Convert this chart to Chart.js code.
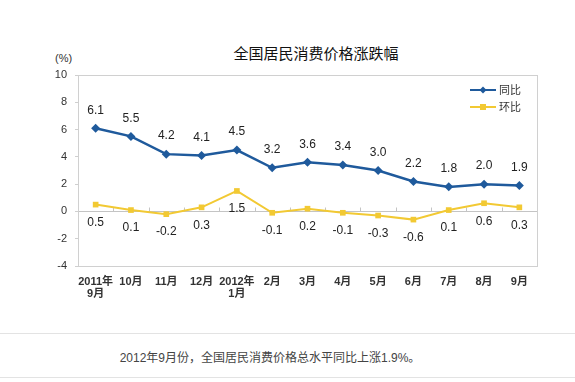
<!DOCTYPE html>
<html>
<head>
<meta charset="utf-8">
<script src="https://cdn.jsdelivr.net/npm/chart.js@4.4.1/dist/chart.umd.min.js"></script>
<style>
  html, body { margin: 0; padding: 0; background: #fff; }
  body { width: 575px; height: 382px; position: relative; overflow: hidden;
         font-family: "Liberation Sans", "Noto Sans CJK SC", sans-serif; }
  #chart { position: absolute; left: 0; top: 0; }
  .title { position: absolute; left: 316px; top: 43px; transform: translateX(-50%);
           font: 15px/20px "Noto Sans CJK SC", sans-serif; color: #111; white-space: nowrap; }
  .unit { position: absolute; left: 55px; top: 52px; font: 11px/12px "Liberation Sans", sans-serif; color: #333; }
  .rule { position: absolute; left: 0; width: 575px; height: 1px; background: #e3e3e3; }
  .caption { position: absolute; left: 270px; top: 350px; transform: translateX(-50%);
             font: 12px/16px "Liberation Sans", "Noto Sans CJK SC", sans-serif; color: #444; white-space: nowrap; }
</style>
</head>
<body>
<div class="title">全国居民消费价格涨跌幅</div>
<div class="unit">(%)</div>
<canvas id="chart" width="575" height="320"></canvas>
<div class="rule" style="top:333px"></div>
<div class="caption">2012年9月份，全国居民消费价格总水平同比上涨1.9%。</div>
<div class="rule" style="top:377px"></div>

<script>
// 月份
const months = [
  ['2011年', '9月'], '10月', '11月', '12月', ['2012年', '1月'],
  '2月', '3月', '4月', '5月', '6月', '7月', '8月', '9月'
];
// 同比
const yoy = [6.1, 5.5, 4.2, 4.1, 4.5, 3.2, 3.6, 3.4, 3.0, 2.2, 1.8, 2.0, 1.9];
// 环比
const mom = [0.5, 0.1, -0.2, 0.3, 1.5, -0.1, 0.2, -0.1, -0.3, -0.6, 0.1, 0.6, 0.3];
const seriesNames = ['同比', '环比'];
const yMin = -4, yMax = 10, yStep = 2;

const BLUE = '#1f5a9c';
const YELLOW = '#f2c933';

// 边框、零线、数据标签、图例
const decor = {
  id: 'decor',
  beforeDatasetsDraw(chart) {
    const { ctx, chartArea: a, scales: { x, y } } = chart;
    const y0 = Math.round(y.getPixelForValue(0)) + 0.5;
    ctx.save();
    ctx.strokeStyle = '#c4c4c4';
    ctx.lineWidth = 1;
    ctx.beginPath();
    ctx.moveTo(a.left, y0);
    ctx.lineTo(a.right, y0);
    for (let i = 1; i < months.length; i++) {
      const bx = Math.round((x.getPixelForValue(i - 1) + x.getPixelForValue(i)) / 2) + 0.5;
      ctx.moveTo(bx, y0);
      ctx.lineTo(bx, y0 - 4);
    }
    ctx.stroke();
    ctx.restore();
  },
  afterDatasetsDraw(chart) {
    const { ctx } = chart;
    ctx.save();
    ctx.font = '12px "Liberation Sans", sans-serif';
    ctx.fillStyle = '#222';
    ctx.textAlign = 'center';
    ctx.textBaseline = 'middle';
    chart.data.datasets.forEach((ds, di) => {
      const meta = chart.getDatasetMeta(di);
      meta.data.forEach((pt, i) => {
        const off = di === 0 ? -18 : 18;
        ctx.fillText(ds.data[i].toFixed(1), pt.x, pt.y + off);
      });
    });
    ctx.restore();
  },
  afterDraw(chart) {
    const { ctx, chartArea: a } = chart;
    ctx.save();
    // plot box
    ctx.strokeStyle = '#d0d0d0';
    ctx.lineWidth = 1;
    ctx.strokeRect(Math.round(a.left) + 0.5, Math.round(a.top) + 0.5,
      Math.round(a.right - a.left), Math.round(a.bottom - a.top));
    // legend
    ctx.font = '11px "Noto Sans CJK SC", sans-serif';
    ctx.textBaseline = 'middle';
    ctx.textAlign = 'left';
    chart.data.datasets.forEach((ds, i) => {
      const ly = a.top + 15 + i * 17;
      const lx = a.right - 67;
      ctx.strokeStyle = ds.borderColor;
      ctx.lineWidth = 2;
      ctx.beginPath();
      ctx.moveTo(lx, ly);
      ctx.lineTo(lx + 26, ly);
      ctx.stroke();
      ctx.fillStyle = ds.borderColor;
      const cx = lx + 13;
      if (ds.pointStyle === 'rectRot') {
        ctx.beginPath();
        ctx.moveTo(cx, ly - 3.5); ctx.lineTo(cx + 3.5, ly);
        ctx.lineTo(cx, ly + 3.5); ctx.lineTo(cx - 3.5, ly);
        ctx.closePath(); ctx.fill();
      } else {
        ctx.fillRect(cx - 3, ly - 3, 6, 6);
      }
      ctx.fillStyle = '#333';
      ctx.fillText(ds.label, lx + 29, ly);
    });
    ctx.restore();
  }
};

new Chart(document.getElementById('chart'), {
  type: 'line',
  data: {
    labels: months,
    datasets: [
      {
        label: seriesNames[0], data: yoy,
        borderColor: BLUE, backgroundColor: BLUE, borderWidth: 2.5,
        pointStyle: 'rectRot', pointRadius: 4.5, pointBorderWidth: 0,
        tension: 0
      },
      {
        label: seriesNames[1], data: mom,
        borderColor: YELLOW, backgroundColor: YELLOW, borderWidth: 2,
        pointStyle: 'rect', pointRadius: 4, pointBorderWidth: 0,
        tension: 0
      }
    ]
  },
  options: {
    responsive: false,
    animation: false,
    layout: { padding: { left: 48, top: 75, right: 38, bottom: 20 } },
    plugins: { legend: { display: false }, tooltip: { enabled: false } },
    scales: {
      x: {
        offset: true,
        grid: { display: false, drawTicks: false },
        border: { display: false },
        ticks: {
          autoSkip: false, maxRotation: 0, padding: 10, color: '#333',
          font: { size: 11, weight: 'bold', family: '"Liberation Sans", "Noto Sans CJK SC", sans-serif', lineHeight: 1.1 }
        },
        afterFit: s => { s.height = 34; }
      },
      y: {
        min: yMin, max: yMax,
        grid: { drawOnChartArea: false, tickLength: 3, color: '#cfcfcf' },
        border: { display: false },
        ticks: {
          stepSize: yStep, padding: 8, color: '#333',
          font: { size: 11, family: '"Liberation Sans", sans-serif' }
        },
        afterFit: s => { s.width = 30; }
      }
    }
  },
  plugins: [decor]
});
</script>
</body>
</html>
